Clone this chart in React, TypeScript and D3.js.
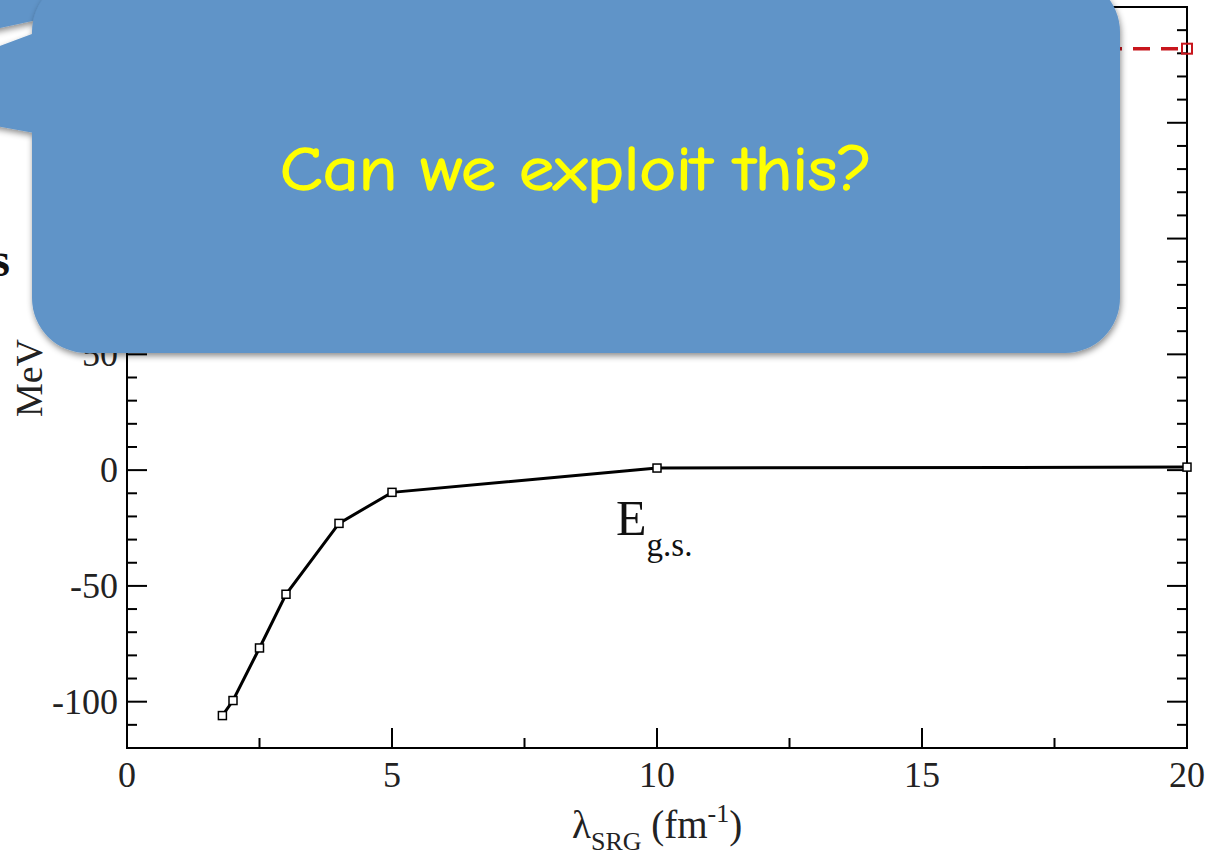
import React from "react";
import * as d3 from "d3";

// Ground-state energy vs. SRG resolution scale
const lambdaSRG = [1.8, 2, 2.5, 3, 4, 5, 10, 20];
const eGroundState = [-106, -99.5, -76.8, -53.6, -23, -9.6, 0.9, 1.3];

// Second curve (dashed red), only its right end is visible
const lambdaRed = [10, 20];
const eRed = [182, 182];

const xMajorTicks = [0, 5, 10, 15, 20];
const xTickLabels = ["0", "5", "10", "15", "20"];
const yMajorTicks = [-100, -50, 0, 50, 100, 150, 200];
const yTickLabels = ["-100", "-50", "0", "50", "100", "150", "200"];

const W = 1210;
const H = 857;

export default function App() {
  const x = d3.scaleLinear().domain([0, 20]).range([127, 1187]);
  const y = d3.scaleLinear().domain([-120, 200]).range([748, 7]);

  const xMinor = d3.range(0, 20.001, 2.5).filter((v) => !xMajorTicks.includes(v));
  const yMinor = d3.range(-120, 200.001, 10).filter((v) => !yMajorTicks.includes(v));

  const line = d3
    .line<number>()
    .x((_, i) => x(lambdaSRG[i]))
    .y((d) => y(d));
  const redLine = d3
    .line<number>()
    .x((_, i) => x(lambdaRed[i]))
    .y((d) => y(d));

  const [x0, x1] = x.range();
  const [yb, yt] = y.range();
  const serif = "'Liberation Serif', 'Times New Roman', serif";
  const MAJ = 20;
  const MIN = 10;

  return (
    <svg
      width={W}
      height={H}
      viewBox={`0 0 ${W} ${H}`}
      style={{ position: "absolute", left: 0, top: 0, background: "#fff" }}
    >
      <defs>
        <filter id="shadow" x="-10%" y="-10%" width="120%" height="130%">
          <feDropShadow dx="1" dy="3" stdDeviation="3" floodColor="#000" floodOpacity="0.45" />
        </filter>
      </defs>

      {/* frame */}
      <rect x={x0} y={yt} width={x1 - x0} height={yb - yt} fill="none" stroke="#000" strokeWidth={2} />

      {/* x ticks, bottom and top, pointing inward */}
      {xMajorTicks.map((v) => (
        <g key={"xM" + v}>
          <line x1={x(v)} x2={x(v)} y1={yb} y2={yb - MAJ} stroke="#000" strokeWidth={2} />
          <line x1={x(v)} x2={x(v)} y1={yt} y2={yt + MAJ} stroke="#000" strokeWidth={2} />
        </g>
      ))}
      {xMinor.map((v) => (
        <g key={"xm" + v}>
          <line x1={x(v)} x2={x(v)} y1={yb} y2={yb - MIN} stroke="#000" strokeWidth={2} />
          <line x1={x(v)} x2={x(v)} y1={yt} y2={yt + MIN} stroke="#000" strokeWidth={2} />
        </g>
      ))}
      {/* y ticks, left and right */}
      {yMajorTicks.map((v) => (
        <g key={"yM" + v}>
          <line x1={x0} x2={x0 + MAJ} y1={y(v)} y2={y(v)} stroke="#000" strokeWidth={2} />
          <line x1={x1} x2={x1 - MAJ} y1={y(v)} y2={y(v)} stroke="#000" strokeWidth={2} />
        </g>
      ))}
      {yMinor.map((v) => (
        <g key={"ym" + v}>
          <line x1={x0} x2={x0 + MIN} y1={y(v)} y2={y(v)} stroke="#000" strokeWidth={2} />
          <line x1={x1} x2={x1 - MIN} y1={y(v)} y2={y(v)} stroke="#000" strokeWidth={2} />
        </g>
      ))}

      {/* tick labels */}
      {xMajorTicks.map((v, i) => (
        <text key={"xl" + v} x={x(v)} y={787} textAnchor="middle" fontFamily={serif} fontSize={36} fill="#222">
          {xTickLabels[i]}
        </text>
      ))}
      {yMajorTicks.map((v, i) => (
        <text key={"yl" + v} x={118} y={Math.max(y(v) + 12, 30)} textAnchor="end" fontFamily={serif} fontSize={36} fill="#222">
          {yTickLabels[i]}
        </text>
      ))}

      {/* axis titles */}
      <text
        transform="translate(42,378) rotate(-90)"
        textAnchor="middle"
        fontFamily={serif}
        fontSize={38}
        fill="#222"
      >
        MeV
      </text>
      <text x={572} y={838} fontFamily={serif} fontSize={39} fill="#222">
        λ
        <tspan fontSize={26} dy={12}>SRG</tspan>
        <tspan dy={-12}> (fm</tspan>
        <tspan fontSize={26} dy={-16}>-1</tspan>
        <tspan dy={16}>)</tspan>
      </text>

      {/* data: red dashed curve */}
      <path
        d={redLine(eRed) || ""}
        fill="none"
        stroke="#c8161d"
        strokeWidth={3.5}
        strokeDasharray="17 11"
      />
      {lambdaRed.map((lv, i) => (
        <rect
          key={"r" + i}
          x={x(lv) - 5}
          y={y(eRed[i]) - 5}
          width={10}
          height={10}
          fill="none"
          stroke="#c8161d"
          strokeWidth={2}
        />
      ))}

      {/* data: ground-state energy */}
      <path d={line(eGroundState) || ""} fill="none" stroke="#000" strokeWidth={3} />
      {lambdaSRG.map((lv, i) => (
        <rect
          key={"p" + i}
          x={x(lv) - 4}
          y={y(eGroundState[i]) - 4}
          width={8}
          height={8}
          fill="#fff"
          stroke="#000"
          strokeWidth={1.5}
        />
      ))}

      <text x={616} y={535} fontFamily={serif} fontSize={50} fill="#111">
        E
        <tspan fontSize={33} dy={21}>g.s.</tspan>
      </text>

      {/* bold text partly hidden behind the callout */}
      <text x={10} y={276} textAnchor="end" fontFamily={serif} fontWeight="bold" fontSize={48} fill="#111">
        s
      </text>

      {/* earlier callout piece at the top-left */}
      <path d="M -20 -20 L 130 -20 L 130 0 L 0 28 L -20 32 Z" fill="#6094c8" filter="url(#shadow)" />

      {/* callout */}
      <g filter="url(#shadow)">
        <path d="M 40 31 L -146 100 L 40 134 Z" fill="#6094c8" />
        <rect x={32} y={-23} width={1088} height={376} rx={55} ry={55} fill="#6094c8" />
      </g>
      <text
        x={576}
        y={190}
        textAnchor="middle"
        fontFamily="'Comic Sans MS', 'Comic Neue', Lato, sans-serif"
        fontSize={62}
        textLength={592}
        lengthAdjust="spacingAndGlyphs"
        fill="#ffff00"
        stroke="#ffff00"
        strokeWidth={1.5}
      >
        Can we exploit this?
      </text>
    </svg>
  );
}
